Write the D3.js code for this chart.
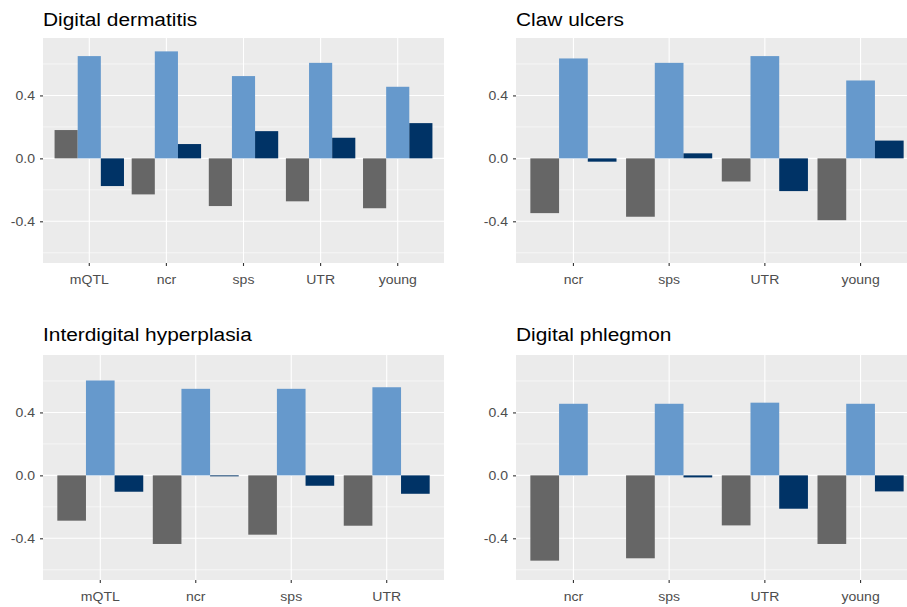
<!DOCTYPE html>
<html>
<head>
<meta charset="utf-8">
<script src="https://cdn.jsdelivr.net/npm/d3@7"></script>
<style>
  html, body { margin: 0; padding: 0; background: #ffffff; }
  svg { display: block; font-family: "Liberation Sans", Arial, sans-serif; }
</style>
</head>
<body>
<svg id="chart" width="907" height="607"></svg>
<script>
// Panel titles and their categories
const panelTitles = ["Digital dermatitis", "Claw ulcers", "Interdigital hyperplasia", "Digital phlegmon"];
const catsDD = ["mQTL", "ncr", "sps", "UTR", "young"];
const catsCU = ["ncr", "sps", "UTR", "young"];
const catsIH = ["mQTL", "ncr", "sps", "UTR"];
const catsDP = ["ncr", "sps", "UTR", "young"];

// Three series per category (gray, light blue, dark blue)
const seriesNames = ["s1", "s2", "s3"];
const seriesColors = ["#666666", "#6699CC", "#003366"];

// Digital dermatitis
const ddS1 = [0.18, -0.229, -0.303, -0.273, -0.317];
const ddS2 = [0.65, 0.68, 0.523, 0.607, 0.455];
const ddS3 = [-0.176, 0.091, 0.173, 0.131, 0.224];
// Claw ulcers
const cuS1 = [-0.348, -0.371, -0.147, -0.393];
const cuS2 = [0.635, 0.607, 0.65, 0.495];
const cuS3 = [-0.021, 0.032, -0.208, 0.113];
// Interdigital hyperplasia
const ihS1 = [-0.288, -0.436, -0.377, -0.32];
const ihS2 = [0.603, 0.55, 0.55, 0.56];
const ihS3 = [-0.104, -0.006, -0.066, -0.117];
// Digital phlegmon
const dpS1 = [-0.542, -0.527, -0.318, -0.436];
const dpS2 = [0.455, 0.455, 0.462, 0.455];
const dpS3 = [null, -0.013, -0.212, -0.102];

// y axis
const yLimits = [-0.6, 0.7];
const yMajor = [-0.4, 0.0, 0.4];
const yMinor = [-0.6, -0.2, 0.2, 0.6];
const yTickLabels = ["-0.4", "0.0", "0.4"];

const panels = [
  { title: panelTitles[0], cats: catsDD, series: [ddS1, ddS2, ddS3], x0: 43, x1: 444, y0: 38, y1: 263, titleY: 25.5 },
  { title: panelTitles[1], cats: catsCU, series: [cuS1, cuS2, cuS3], x0: 516, x1: 918, y0: 38, y1: 263, titleY: 25.5 },
  { title: panelTitles[2], cats: catsIH, series: [ihS1, ihS2, ihS3], x0: 43, x1: 444, y0: 355, y1: 580, titleY: 341 },
  { title: panelTitles[3], cats: catsDP, series: [dpS1, dpS2, dpS3], x0: 516, x1: 918, y0: 355, y1: 580, titleY: 341 }
];

// text is set slightly wide, as in the exported figure
const titleStretch = 1.16;
const tickStretch = 1.08;

const svg = d3.select("#chart");
const ySpan = yLimits[1] - yLimits[0];
const yDomain = [yLimits[0] - 0.05 * ySpan, yLimits[1] + 0.05 * ySpan];

panels.forEach(p => {
  const g = svg.append("g");
  const x = d3.scaleBand().domain(p.cats).range([p.x0, p.x1])
    .paddingInner(0.1).paddingOuter(0.15);
  const xs = d3.scaleBand().domain(seriesNames).range([0, x.bandwidth()]);
  const y = d3.scaleLinear().domain(yDomain).range([p.y1, p.y0]);

  // panel background
  g.append("rect")
    .attr("x", p.x0).attr("y", p.y0)
    .attr("width", p.x1 - p.x0).attr("height", p.y1 - p.y0)
    .attr("fill", "#EBEBEB");

  // minor grid
  g.selectAll(".ymin").data(yMinor).join("line")
    .attr("x1", p.x0).attr("x2", p.x1)
    .attr("y1", d => y(d)).attr("y2", d => y(d))
    .attr("stroke", "#ffffff").attr("stroke-width", 0.55);
  // major grid
  g.selectAll(".ymaj").data(yMajor).join("line")
    .attr("x1", p.x0).attr("x2", p.x1)
    .attr("y1", d => y(d)).attr("y2", d => y(d))
    .attr("stroke", "#ffffff").attr("stroke-width", 1.1);
  g.selectAll(".xmaj").data(p.cats).join("line")
    .attr("x1", d => x(d) + x.bandwidth() / 2).attr("x2", d => x(d) + x.bandwidth() / 2)
    .attr("y1", p.y0).attr("y2", p.y1)
    .attr("stroke", "#ffffff").attr("stroke-width", 1.1);

  // bars
  const rows = [];
  p.cats.forEach((c, i) => {
    seriesNames.forEach((s, j) => {
      const v = p.series[j][i];
      if (v !== null && v !== undefined) rows.push({ cat: c, s, j, v });
    });
  });
  g.selectAll(".bar").data(rows).join("rect")
    .attr("x", d => x(d.cat) + xs(d.s))
    .attr("width", xs.bandwidth())
    .attr("y", d => y(Math.max(0, d.v)))
    .attr("height", d => Math.abs(y(d.v) - y(0)))
    .attr("fill", d => seriesColors[d.j]);

  // y axis
  const yAxis = d3.axisLeft(y).tickValues(yMajor)
    .tickFormat((d, i) => yTickLabels[i]).tickSize(3).tickPadding(5);
  const ya = g.append("g").attr("transform", `translate(${p.x0},0)`).call(yAxis);
  ya.select(".domain").remove();
  ya.selectAll(".tick line").attr("stroke", "#333333").attr("stroke-width", 1.1);
  ya.selectAll(".tick text").attr("fill", "#4D4D4D").style("font-size", "13px")
    .style("font-family", "'Liberation Sans', Arial, sans-serif")
    .attr("x", -8 / tickStretch)
    .attr("transform", `scale(${tickStretch},1)`);

  // x axis
  const xAxis = d3.axisBottom(x).tickSize(3).tickPadding(9);
  const xa = g.append("g").attr("transform", `translate(0,${p.y1})`).call(xAxis);
  xa.select(".domain").remove();
  xa.selectAll(".tick line").attr("stroke", "#333333").attr("stroke-width", 1.1);
  xa.selectAll(".tick text").attr("fill", "#4D4D4D").style("font-size", "13px")
    .style("font-family", "'Liberation Sans', Arial, sans-serif")
    .attr("transform", `scale(${tickStretch},1)`);

  // title
  g.append("text")
    .attr("transform", `translate(${p.x0},${p.titleY}) scale(${titleStretch},1)`)
    .attr("fill", "#000000")
    .style("font-size", "18px")
    .text(p.title);
});
</script>
</body>
</html>
